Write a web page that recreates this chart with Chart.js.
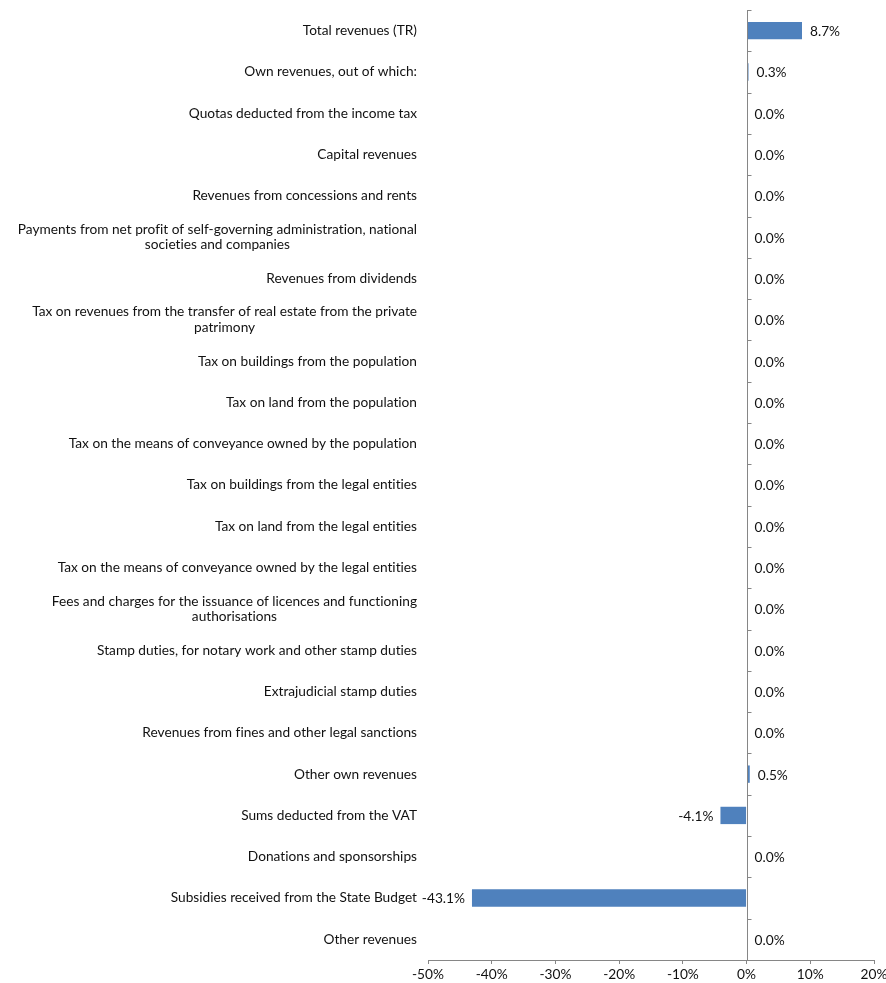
<!DOCTYPE html>
<html>
<head>
<meta charset="utf-8">
<script src="https://cdn.jsdelivr.net/npm/chart.js@4"></script>
<style>
  html, body { margin: 0; padding: 0; background: #fff; }
  #wrap { width: 886px; height: 983px; }
</style>
</head>
<body>
<div id="wrap"><canvas id="revChart"></canvas></div>
<script>
// revenue lines, top to bottom (two-line entries wrap as in the report)
const categories = [
  "Total revenues (TR)",
  "Own revenues, out of which:",
  "Quotas deducted from the income tax",
  "Capital revenues",
  "Revenues from concessions and rents",
  ["Payments from net profit of self-governing administration, national", "societies and companies"],
  "Revenues from dividends",
  ["Tax on revenues from the transfer of real estate from the private", "patrimony"],
  "Tax on buildings from the population",
  "Tax on land from the population",
  "Tax on the means of conveyance owned by the population",
  "Tax on buildings from the legal entities",
  "Tax on land from the legal entities",
  "Tax on the means of conveyance owned by the legal entities",
  ["Fees and charges for the issuance of licences and functioning", "authorisations"],
  "Stamp duties, for notary work and other stamp duties",
  "Extrajudicial stamp duties",
  "Revenues from fines and other legal sanctions",
  "Other own revenues",
  "Sums deducted from the VAT",
  "Donations and sponsorships",
  "Subsidies received from the State Budget",
  "Other revenues"
];

// change, %
const changes = [8.7, 0.3, 0, 0, 0, 0, 0, 0, 0, 0, 0, 0, 0, 0, 0, 0, 0, 0, 0.5, -4.1, 0, -43.1, 0];

const xMin = -50;
const xMax = 20;
const xStep = 10;

const BAR_COLOR = "#4f81bd";
const AXIS_COLOR = "#868686";
const TEXT_COLOR = "#111";
const FONT_FAMILY = "Lato, 'Open Sans', sans-serif";
const FONT_SIZE = 13.7;
const LABEL_RIGHT = 417;
const LINE_H = 15.5;

// category names, value labels and the zero axis are drawn by hand
const labelPlugin = {
  id: "revLabels",
  afterDatasetsDraw(chart) {
    const ctx = chart.ctx;
    const xs = chart.scales.x;
    const ys = chart.scales.y;
    const area = chart.chartArea;
    const zeroX = Math.round(xs.getPixelForValue(0)) + 0.5;

    ctx.save();
    ctx.strokeStyle = AXIS_COLOR;
    ctx.lineWidth = 1;
    ctx.beginPath();
    ctx.moveTo(zeroX, area.top);
    ctx.lineTo(zeroX, area.bottom);
    for (let i = 0; i < categories.length; i++) {
      const yy = Math.round(ys.getPixelForValue(i - 0.5)) + 0.5;
      ctx.moveTo(zeroX, yy);
      ctx.lineTo(zeroX + 4, yy);
    }
    ctx.stroke();

    ctx.font = FONT_SIZE + "px " + FONT_FAMILY;
    ctx.textRendering = "optimizeSpeed";
    ctx.fillStyle = TEXT_COLOR;
    ctx.textBaseline = "middle";

    categories.forEach((lab, i) => {
      const lines = Array.isArray(lab) ? lab : [lab];
      const cy = ys.getPixelForValue(i);
      const widest = Math.max(...lines.map(l => ctx.measureText(l).width));
      const cx = LABEL_RIGHT - widest / 2;
      ctx.textAlign = "center";
      lines.forEach((l, j) => {
        ctx.fillText(l, cx, cy + (j - (lines.length - 1) / 2) * LINE_H);
      });
    });

    changes.forEach((v, i) => {
      const bx = xs.getPixelForValue(v);
      const cy = ys.getPixelForValue(i);
      const text = v.toFixed(1) + "%";
      if (v < 0) {
        ctx.textAlign = "right";
        ctx.fillText(text, bx - 7, cy + 1);
      } else {
        ctx.textAlign = "left";
        ctx.fillText(text, bx + 8, cy + 1);
      }
    });
    ctx.restore();
  }
};

document.addEventListener("DOMContentLoaded", () => {
  const ctx = document.getElementById("revChart");

  new Chart(ctx, {
    type: "bar",
    data: {
      labels: categories,
      datasets: [
        {
          data: changes,
          backgroundColor: BAR_COLOR,
          borderWidth: 0,
          barPercentage: 0.42,
          categoryPercentage: 1
        }
      ]
    },
    options: {
      indexAxis: "y",
      responsive: true,
      maintainAspectRatio: false,
      animation: false,
      layout: {
        padding: { left: 428, right: 12, top: 10, bottom: 0 }
      },
      plugins: {
        legend: { display: false },
        tooltip: { enabled: false }
      },
      scales: {
        x: {
          min: xMin,
          max: xMax,
          afterFit: (scale) => {
            scale.height = 23;
            scale.paddingLeft = 0;
            scale.paddingRight = 0;
          },
          ticks: {
            stepSize: xStep,
            color: TEXT_COLOR,
            padding: 2,
            maxRotation: 0,
            font: { family: FONT_FAMILY, size: FONT_SIZE },
            callback: (v) => v + "%"
          },
          grid: {
            drawOnChartArea: false,
            drawTicks: true,
            tickLength: 4,
            color: AXIS_COLOR
          },
          border: { color: AXIS_COLOR }
        },
        y: {
          afterFit: (scale) => { scale.width = 0; },
          ticks: { display: false },
          grid: { display: false },
          border: { display: false }
        }
      }
    },
    plugins: [labelPlugin]
  });
});
</script>
</body>
</html>
